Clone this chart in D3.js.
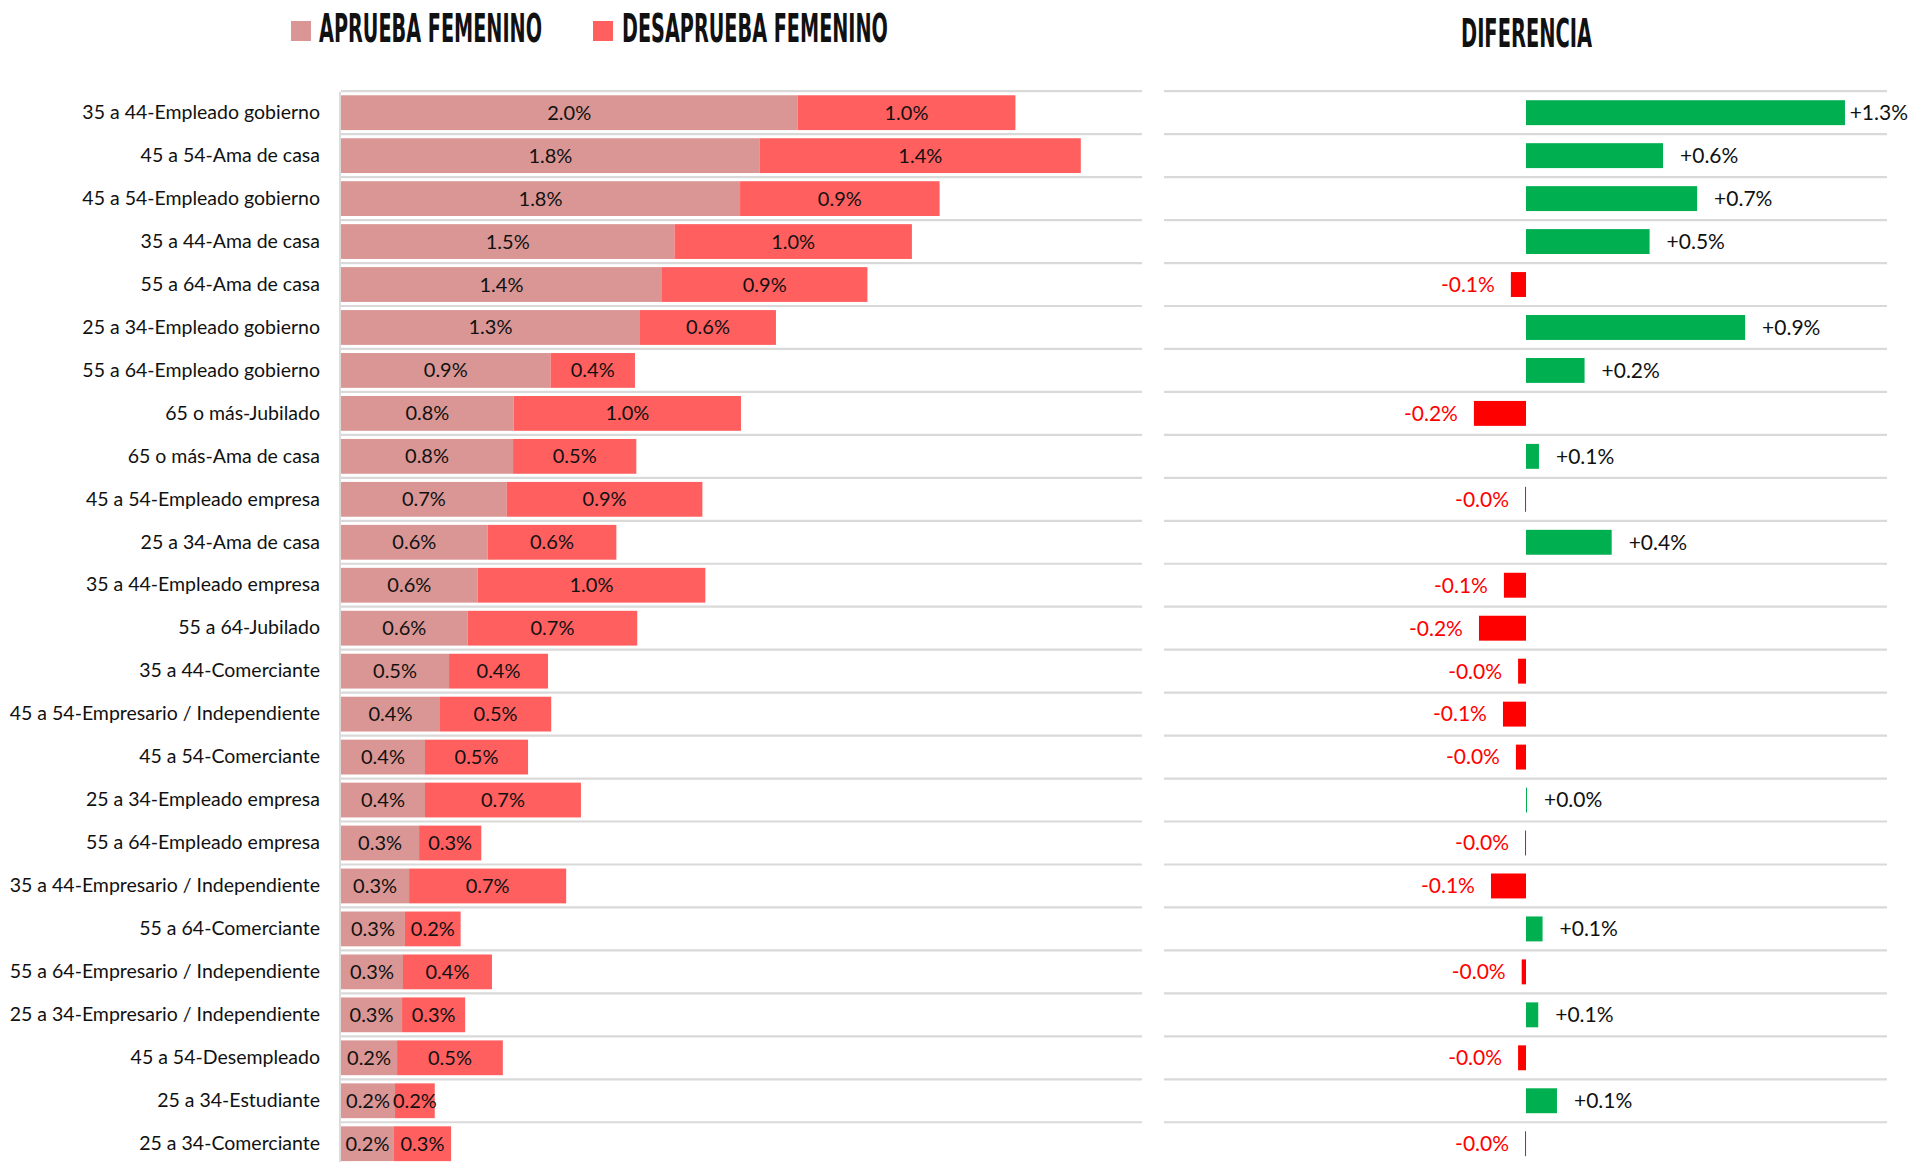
<!DOCTYPE html>
<html><head><meta charset="utf-8">
<script src="https://cdn.jsdelivr.net/npm/d3@7"></script>
<style>body{margin:0;background:#fff;overflow:hidden} svg{display:block}</style>
</head><body>
<svg id="c" width="1911" height="1162"></svg>
<script>
const categories = [
  "35 a 44-Empleado gobierno","45 a 54-Ama de casa","45 a 54-Empleado gobierno","35 a 44-Ama de casa",
  "55 a 64-Ama de casa","25 a 34-Empleado gobierno","55 a 64-Empleado gobierno","65 o más-Jubilado",
  "65 o más-Ama de casa","45 a 54-Empleado empresa","25 a 34-Ama de casa","35 a 44-Empleado empresa",
  "55 a 64-Jubilado","35 a 44-Comerciante","45 a 54-Empresario / Independiente","45 a 54-Comerciante",
  "25 a 34-Empleado empresa","55 a 64-Empleado empresa","35 a 44-Empresario / Independiente","55 a 64-Comerciante",
  "55 a 64-Empresario / Independiente","25 a 34-Empresario / Independiente","45 a 54-Desempleado","25 a 34-Estudiante",
  "25 a 34-Comerciante"
];
const aprueba = [2.011,1.845,1.758,1.469,1.414,1.317,0.923,0.761,0.758,0.730,0.646,0.602,0.558,0.476,0.436,0.370,0.370,0.344,0.300,0.282,0.273,0.269,0.247,0.238,0.233];
const desaprueba = [0.960,1.414,0.879,1.046,0.905,0.599,0.372,1.001,0.543,0.862,0.567,1.003,0.747,0.436,0.490,0.454,0.687,0.274,0.692,0.245,0.392,0.278,0.466,0.175,0.252];
const diferencia = [1.329,0.571,0.713,0.515,-0.063,0.913,0.244,-0.217,0.054,-0.004,0.357,-0.092,-0.196,-0.033,-0.096,-0.042,0.004,-0.004,-0.146,0.069,-0.018,0.051,-0.033,0.129,-0.004];
const legendLabels = ["APRUEBA FEMENINO","DESAPRUEBA FEMENINO"];
const diffTitle = "DIFERENCIA";

const colAprueba = "#d99694", colDesaprueba = "#ff5f5f", colPos = "#00b050", colNeg = "#ff0000", colGrid = "#d9d9d9";
const svg = d3.select("#c");
const y0 = 91.2, step = 42.96;
const y = d3.scaleBand().domain(categories).range([y0, y0 + categories.length*step]).paddingInner(0.19).paddingOuter(0.095);
const yd = d3.scaleBand().domain(categories).range([y0, y0 + categories.length*step]).paddingInner(0.42).paddingOuter(0.21);
const x = d3.scaleLinear().domain([0,3.5]).range([341, 341+3.5*227]);
const xd = d3.scaleLinear().domain([-1.5,1.5]).range([1526-1.5*240, 1526+1.5*240]);
const fmt = v => v.toFixed(1) + "%";
const fmtD = v => (v < 0 ? "-" : "+") + Math.abs(v).toFixed(1) + "%";
const rows = categories.map((c,i)=>({c, a:aprueba[i], d:desaprueba[i], diff:diferencia[i]}));
const slotTop = c => y(c) - (y.step()-y.bandwidth())/2;

// separators
svg.append("g").selectAll("line").data(rows).join("line")
  .attr("x1",341).attr("x2",1142).attr("y1",d=>slotTop(d.c)).attr("y2",d=>slotTop(d.c))
  .attr("stroke",colGrid).attr("stroke-width",2.2);
svg.append("g").selectAll("line").data(rows).join("line")
  .attr("x1",1164).attr("x2",1887).attr("y1",d=>slotTop(d.c)).attr("y2",d=>slotTop(d.c))
  .attr("stroke",colGrid).attr("stroke-width",2.2);

// category axis
const ax = svg.append("g").attr("transform","translate(339.5,0)")
  .call(d3.axisLeft(y).tickSize(0).tickPadding(19.5));
ax.select(".domain").attr("stroke","#dcdcdc").attr("stroke-width",2);
ax.selectAll("text").attr("font-family","Lato, sans-serif").attr("font-size",19.5).attr("fill","#111");

// stacked bars
const g = svg.append("g");
g.selectAll(".ra").data(rows).join("rect").attr("class","ra")
  .attr("x",x(0)).attr("y",d=>y(d.c)).attr("height",y.bandwidth())
  .attr("width",d=>x(d.a)-x(0)).attr("fill",colAprueba);
g.selectAll(".rd").data(rows).join("rect").attr("class","rd")
  .attr("x",d=>x(d.a)).attr("y",d=>y(d.c)).attr("height",y.bandwidth())
  .attr("width",d=>x(d.a+d.d)-x(d.a)).attr("fill",colDesaprueba);
g.selectAll(".ta").data(rows).join("text").attr("class","ta")
  .attr("x",d=>(x(0)+x(d.a))/2).attr("y",d=>y(d.c)+y.bandwidth()/2).attr("dy","0.35em")
  .attr("text-anchor","middle").attr("font-family","Lato, sans-serif").attr("font-size",20).attr("fill","#111")
  .text(d=>fmt(d.a));
g.selectAll(".td").data(rows).join("text").attr("class","td")
  .attr("x",d=>(x(d.a)+x(d.a+d.d))/2).attr("y",d=>y(d.c)+y.bandwidth()/2).attr("dy","0.35em")
  .attr("text-anchor","middle").attr("font-family","Lato, sans-serif").attr("font-size",20).attr("fill","#111")
  .text(d=>fmt(d.d));

// difference bars
const gd = svg.append("g");
gd.selectAll("rect").data(rows).join("rect")
  .attr("x",d=>xd(Math.min(0,d.diff))).attr("y",d=>yd(d.c)).attr("height",yd.bandwidth())
  .attr("width",d=>Math.max(1,Math.abs(xd(d.diff)-xd(0)))).attr("fill",d=>d.diff<0?colNeg:colPos);
gd.selectAll("text").data(rows).join("text")
  .attr("y",d=>yd(d.c)+yd.bandwidth()/2).attr("dy","0.35em")
  .attr("font-family","Lato, sans-serif").attr("font-size",21)
  .attr("fill",d=>d.diff<0?colNeg:"#111")
  .attr("text-anchor",d=>d.diff<0?"end":"start")
  .text(d=>fmtD(d.diff))
  .attr("x",function(d){
    if (d.diff < 0) return xd(d.diff) - 16;
    const w = this.getComputedTextLength();
    return Math.min(xd(d.diff) + 17, 1908 - w);
  });

// condensed title text: natural width measured, then compressed horizontally by transform
function condensed(sel, tx, ty, targetW, fs, sy) {
  const t = sel.append("text").attr("x",0).attr("y",0)
    .attr("font-family","'DejaVu Sans Condensed', 'DejaVu Sans', sans-serif").attr("font-weight","bold")
    .attr("font-size",fs).attr("fill","#111");
  return t;
}
const legX = [291, 593], legTxtX = [319, 622], legW = [223, 266];
const lg = svg.append("g");
function placeCondensed(txt, tx, ty, targetW) {
  const fs = 24;
  const t = lg.append("text").attr("x",0).attr("y",0)
    .attr("font-family","'DejaVu Sans Condensed', 'DejaVu Sans', sans-serif").attr("font-weight","bold")
    .attr("font-size",fs).attr("fill","#111").text(txt);
  const w = t.node().getComputedTextLength();
  const sx = targetW / w, sy = 28 / (0.729*fs);
  t.attr("transform",`translate(${tx},${ty}) scale(${sx},${sy})`);
}
legendLabels.forEach((t,i)=>{
  lg.append("rect").attr("x",legX[i]).attr("y",21).attr("width",20).attr("height",20)
    .attr("fill", i===0?colAprueba:colDesaprueba);
  placeCondensed(t, legTxtX[i], 42, legW[i]);
});
placeCondensed(diffTitle, 1461, 47, 131);
</script>
</body></html>
